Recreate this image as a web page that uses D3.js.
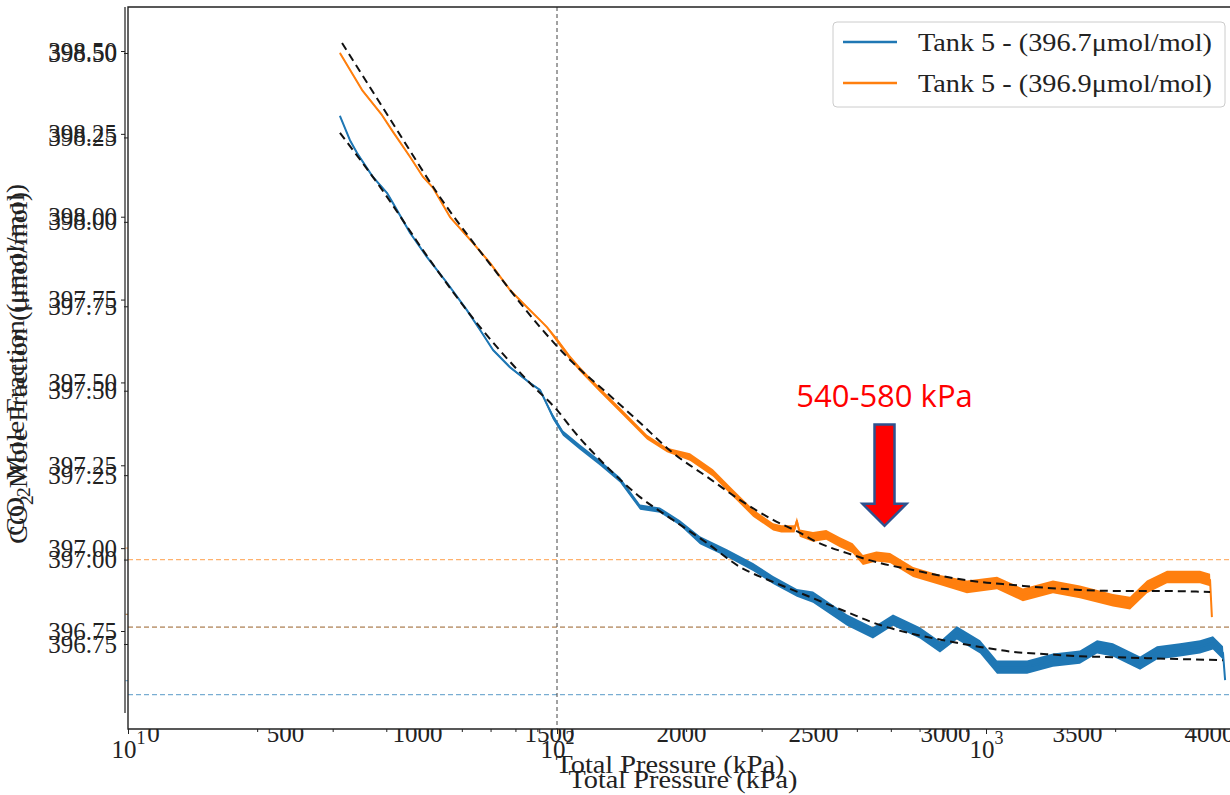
<!DOCTYPE html>
<html>
<head>
<meta charset="utf-8">
<script src="https://cdn.jsdelivr.net/npm/d3@7/dist/d3.min.js"></script>
<style>
  body { margin: 0; background: #fff; }
  .serif { font-family: "Liberation Serif", "DejaVu Serif", serif; }
</style>
</head>
<body>
<svg id="chart" class="serif" width="1230" height="795"></svg>
<script>

// ---- axis ticks --------------------------------------------------------
var yTicks     = [396.75, 397.00, 397.25, 397.50, 397.75, 398.00, 398.25, 398.50]
var linTicks   = [0, 500, 1000, 1500, 2000, 2500, 3000, 3500, 4000]
var logMajor   = [10, 100, 1000]
var logMinor   = [20, 30, 40, 50, 60, 70, 80, 90, 200, 300, 400, 500, 600, 700, 800, 900, 2000, 3000]

// reference lines
var hLineVals  = [396.8, 396.6, 397.0, 396.8]
var hLineKeys  = ["blue", "blue", "orange", "orange"]
var vLinePressure = 100

// ---- measured series (pressure kPa, CO2 umol/mol) ----------------------
var orangeP = [708, 792, 867, 909, 974, 1023, 1061, 1125, 1212, 1277, 1352, 1428, 1466, 1492, 1530,
  1580, 1617, 1693, 1780, 1871, 1947, 2034, 2121, 2197, 2273, 2349, 2380, 2430, 2439, 2450,
  2500, 2550, 2602, 2650, 2689, 2740, 2792, 2879, 2981, 3083, 3197, 3295, 3409, 3511, 3636,
  3701, 3765, 3841, 3917, 3966, 4004, 4011]
var orangeV = [398.494, 398.382, 398.307, 398.256, 398.180, 398.120, 398.087, 397.999, 397.921, 397.860,
  397.779, 397.718, 397.688, 397.667, 397.628, 397.574, 397.540, 397.477, 397.408, 397.335,
  397.296, 397.275, 397.227, 397.166, 397.106, 397.064, 397.058, 397.058, 397.082, 397.045,
  397.034, 397.040, 397.018, 397.000, 396.964, 396.975, 396.970, 396.928, 396.904, 396.883,
  396.895, 396.859, 396.883, 396.868, 396.843, 396.834, 396.883, 396.913, 396.913, 396.913,
  396.904, 396.792]

var blueP = [708, 746, 773, 833, 886, 909, 974, 1038, 1114, 1189, 1239, 1288, 1352, 1428, 1466, 1515,
  1553, 1617, 1693, 1769, 1845, 1920, 1996, 2072, 2174, 2273, 2349, 2439, 2500, 2629, 2727,
  2803, 2905, 2981, 3045, 3133, 3197, 3311, 3409, 3511, 3576, 3636, 3739, 3803, 3890, 3966,
  4015, 4053, 4061]
var blueV = [398.304, 398.231, 398.192, 398.120, 398.072, 398.041, 397.951, 397.878, 397.800, 397.718,
  397.658, 397.598, 397.546, 397.498, 397.477, 397.396, 397.347, 397.305, 397.257, 397.206,
  397.124, 397.115, 397.076, 397.024, 396.985, 396.943, 396.904, 396.865, 396.852, 396.783,
  396.744, 396.783, 396.744, 396.702, 396.744, 396.702, 396.641, 396.641, 396.662, 396.671,
  396.702, 396.693, 396.653, 396.684, 396.693, 396.702, 396.714, 396.684, 396.602]

// scatter band half-width of the noisy traces, by pressure range
var spreadBreaks = [1500, 2000, 2500, 3000]
var orangeSpread = [0.003, 0.007, 0.011, 0.015, 0.019]
var blueSpread   = [0.003, 0.008, 0.012, 0.017, 0.020]

// ---- fitted curves -----------------------------------------------------
var orangeFitP = [716, 924, 1076, 1303, 1466, 1591, 1720, 1845, 1970, 2099, 2224, 2349, 2451,
  2500, 2629, 2754, 2879, 3008, 3133, 3258, 3386, 3511, 3636, 3765, 4004]
var orangeFitV = [398.524, 398.262, 398.072, 397.830, 397.667, 397.559, 397.468, 397.378, 397.287,
  397.215, 397.145, 397.085, 397.046, 397.024, 396.985, 396.955, 396.934, 396.913, 396.898,
  396.889, 396.880, 396.874, 396.871, 396.871, 396.868]

var blueFitP = [708, 860, 1049, 1239, 1428, 1530, 1591, 1720, 1845, 1970, 2099, 2224, 2349, 2451,
  2500, 2629, 2754, 2879, 3008, 3133, 3258, 3386, 3511, 3636, 3765, 4053]
var blueFitV = [398.253, 398.090, 397.869, 397.667, 397.498, 397.417, 397.356, 397.245, 397.154,
  397.085, 397.015, 396.943, 396.898, 396.865, 396.849, 396.807, 396.768, 396.741, 396.720,
  396.702, 396.687, 396.680, 396.674, 396.671, 396.668, 396.662]

var legendLabels = ["Tank 5 - (396.7\u03bcmol/mol)", "Tank 5 - (396.9\u03bcmol/mol)"]
var noteText  = "540-580 kPa"
var noteRange = [540, 580]
var noteY     = [397.452, 397.40, 397.10]   // text baseline, arrow top, arrow tip

// ------------------------------------------------------------------------
var colors = {blue: "#1f77b4", orange: "#ff7f0e"}
var fs = 25

var svg = d3.select("#chart")

// two overlapping axes: "inner" sits behind the "outer" one
var inner = {left: 125, top: 7, right: 1215, bottom: 713}
var outer = {left: 128, top: 7, right: 1245, bottom: 729}

var xLin = d3.scaleLinear().domain([0, 4000]).range([153, 1209])
var xLog = d3.scaleLog().domain([10, 1000]).range([128, 986])
var yA   = d3.scaleLinear().domain([396.75, 398.5]).range([631, 51])
var yB   = d3.scaleLinear().domain([396.75, 398.5]).range([644, 53])

function styleAxis(g) {
	g.attr("font-family", null).attr("font-size", null)
	g.selectAll(".tick line").attr("stroke", "#222")
	g.selectAll(".tick text").attr("font-size", fs).attr("fill", "#222")
	g.select(".domain").remove()
}

function yLabel(x, y) {
	var t = svg.append("text")
		.attr("transform", `translate(${x},${y}) rotate(-90)`)
		.attr("text-anchor", "middle")
		.attr("font-size", 26)
		.attr("fill", "#222")
		.attr("textLength", 352)
		.attr("lengthAdjust", "spacingAndGlyphs")
	t.append("tspan").text("CO")
	t.append("tspan").attr("font-size", 18).attr("dy", 6).text("2")
	t.append("tspan").attr("dy", -6).text(" Mole Fraction (\u03bcmol/mol)")
}

function xLabel(x, y) {
	svg.append("text")
		.attr("x", x).attr("y", y)
		.attr("text-anchor", "middle")
		.attr("font-size", fs).attr("fill", "#222")
		.attr("textLength", 229)
		.attr("lengthAdjust", "spacingAndGlyphs")
		.text("Total Pressure (kPa)")
}

function hLines(g, y, x1, x2) {
	g.selectAll("line.h")
		.data(hLineVals)
		.enter().append("line")
		.attr("class", "h")
		.attr("x1", x1).attr("x2", x2)
		.attr("y1", d => y(d)).attr("y2", d => y(d))
		.attr("stroke", (d, i) => colors[hLineKeys[i]])
		.attr("stroke-opacity", 0.6)
		.attr("stroke-width", 1.2)
		.attr("stroke-dasharray", "5,3")
}

// ---- inner axes (mostly hidden) ----
var gIn = svg.append("g")

hLines(gIn, yA, inner.left, inner.right)

gIn.append("line")
	.attr("x1", inner.left).attr("x2", inner.left)
	.attr("y1", inner.top).attr("y2", inner.bottom)
	.attr("stroke", "#555").attr("stroke-width", 1.6)

gIn.append("g")
	.attr("transform", `translate(${inner.left},0)`)
	.call(d3.axisLeft(yA).tickValues(yTicks).tickSize(4).tickPadding(4).tickFormat(d3.format(".2f")))
	.call(styleAxis)

gIn.append("g")
	.attr("transform", `translate(0,${inner.bottom})`)
	.call(d3.axisBottom(xLin).tickValues(linTicks).tickSize(4).tickPadding(7).tickFormat(d3.format("d")))
	.call(styleAxis)

yLabel(24, (inner.top + inner.bottom) / 2)
xLabel(670, 773)

// ---- outer axes ----
svg.append("rect")
	.attr("x", outer.left).attr("y", outer.top)
	.attr("width", outer.right - outer.left).attr("height", outer.bottom - outer.top)
	.attr("fill", "#fff")

var gOut = svg.append("g")

hLines(gOut, yB, outer.left, outer.right)

gOut.append("line")
	.attr("x1", xLog(vLinePressure)).attr("x2", xLog(vLinePressure))
	.attr("y1", outer.top).attr("y2", outer.bottom)
	.attr("stroke", "#444").attr("stroke-width", 1)
	.attr("stroke-dasharray", "4,3")

var spreadScale = d3.scaleThreshold().domain(spreadBreaks)

var series = [
	{key: "blue",   p: blueP,   v: blueV,   spread: blueSpread},
	{key: "orange", p: orangeP, v: orangeV, spread: orangeSpread}
]

var band = d3.area()
	.x(d => xLin(d.p))
	.y0(d => yA(d.v - d.s))
	.y1(d => yA(d.v + d.s))

var line = d3.line()
	.x(d => xLin(d.p))
	.y(d => yA(d.v))

series.forEach(function(s) {
	spreadScale.range(s.spread)
	var pts = s.p.map((p, i) => ({p: p, v: s.v[i], s: i == s.p.length - 1 ? 0 : spreadScale(p)}))
	gOut.append("path")
		.attr("d", band(pts))
		.attr("fill", colors[s.key])
	gOut.append("path")
		.attr("d", line(pts))
		.attr("fill", "none")
		.attr("stroke", colors[s.key])
		.attr("stroke-width", 2)
		.attr("stroke-linejoin", "round")
})

var fitLine = d3.line()
	.x(d => xLin(d[0]))
	.y(d => yA(d[1]))
	.curve(d3.curveMonotoneX)

;[[orangeFitP, orangeFitV], [blueFitP, blueFitV]].forEach(function(f) {
	gOut.append("path")
		.attr("d", fitLine(f[0].map((p, i) => [p, f[1][i]])))
		.attr("fill", "none")
		.attr("stroke", "#111")
		.attr("stroke-width", 2)
		.attr("stroke-dasharray", "8,5")
})

// spines
gOut.append("path")
	.attr("d", `M${outer.right},${outer.top}H${outer.left}V${outer.bottom}H${outer.right}`)
	.attr("fill", "none").attr("stroke", "#222").attr("stroke-width", 1.4)

gOut.append("g")
	.attr("transform", `translate(${outer.left},0)`)
	.call(d3.axisLeft(yB).tickValues(yTicks).tickSize(4).tickPadding(7).tickFormat(d3.format(".2f")))
	.call(styleAxis)

gOut.append("g")
	.attr("transform", `translate(0,${outer.bottom})`)
	.call(d3.axisBottom(xLog).tickValues(logMinor).tickSize(3).tickFormat(""))
	.call(styleAxis)

var gLog = gOut.append("g")
	.attr("transform", `translate(0,${outer.bottom})`)
	.call(d3.axisBottom(xLog).tickValues(logMajor).tickSize(5).tickFormat(""))
	.call(styleAxis)

gLog.selectAll(".tick").append("text")
	.attr("y", 29)
	.attr("text-anchor", "middle")
	.attr("font-size", fs).attr("fill", "#222")
	.each(function(d) {
		var t = d3.select(this)
		t.append("tspan").text("10")
		t.append("tspan").attr("font-size", 18).attr("dy", -14).text(Math.round(Math.log10(d)))
	})

yLabel(27, (outer.top + outer.bottom) / 2)
xLabel(683, 788)

// legend
var leg = svg.append("g").attr("transform", "translate(833,22)")
leg.append("rect")
	.attr("width", 392).attr("height", 85).attr("rx", 4)
	.attr("fill", "#fff").attr("stroke", "#ccc")
leg.selectAll("g.item")
	.data(legendLabels)
	.enter().append("g")
	.attr("transform", (d, i) => `translate(0,${20 + i * 41})`)
	.each(function(d, i) {
		var g = d3.select(this)
		g.append("line").attr("x1", 10).attr("x2", 64)
			.attr("stroke", colors[series[i].key]).attr("stroke-width", 2.5)
		g.append("text").attr("x", 85).attr("dy", "0.35em")
			.attr("font-size", fs).attr("fill", "#222")
			.attr("textLength", 294).attr("lengthAdjust", "spacingAndGlyphs")
			.text(d)
	})

// annotation
var ax = xLog(noteRange[1])
svg.append("text")
	.attr("x", ax).attr("y", yB(noteY[0]))
	.attr("text-anchor", "middle")
	.style("font-family", "'Open Sans', 'Noto Sans', sans-serif")
	.attr("font-size", 31)
	.attr("fill", "#ff0000")
	.text(noteText)

var at = yB(noteY[1]), tip = yB(noteY[2])
svg.append("path")
	.attr("d", `M${ax - 10},${at}H${ax + 10}V${tip - 22}H${ax + 22}L${ax},${tip}L${ax - 22},${tip - 22}H${ax - 10}Z`)
	.attr("fill", "#ff0000")
	.attr("stroke", "#2f528f")
	.attr("stroke-width", 2.5)

</script>
</body>
</html>
